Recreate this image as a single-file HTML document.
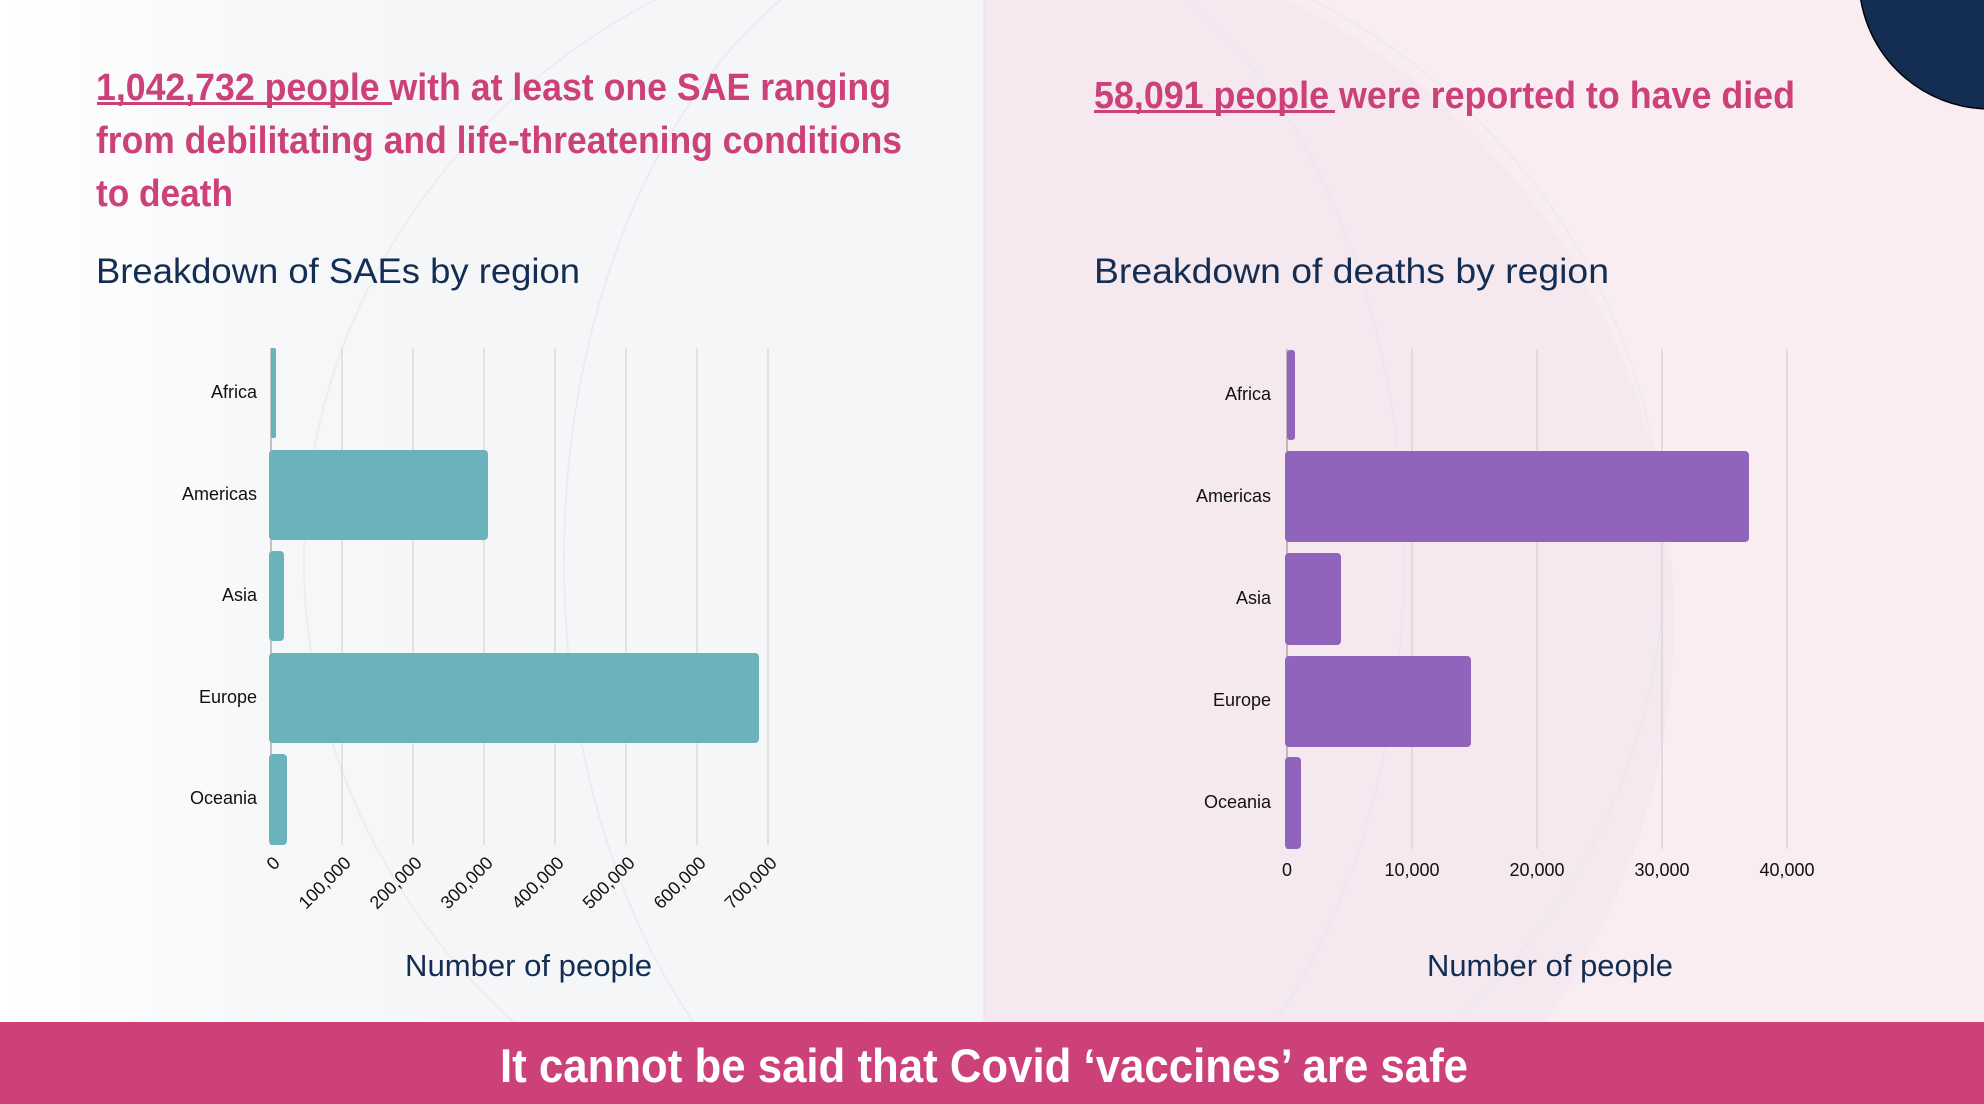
<!DOCTYPE html>
<html><head><meta charset="utf-8"><style>html,body{margin:0;padding:0;background:#fff;width:1984px;height:1104px;overflow:hidden}svg{display:block}</style></head><body>
<svg width="1984" height="1104" viewBox="0 0 1984 1104" xmlns="http://www.w3.org/2000/svg" font-family="Liberation Sans, sans-serif">
<defs>
<linearGradient id="lg" x1="0" x2="1" y1="0" y2="0"><stop offset="0" stop-color="#ffffff"/><stop offset="0.3" stop-color="#f6f7f8"/><stop offset="1" stop-color="#f4f5f7"/></linearGradient>
<clipPath id="rc"><rect x="984" y="0" width="1000" height="1104"/></clipPath>
</defs>
<rect x="0" y="0" width="984" height="1104" fill="url(#lg)"/>
<rect x="984" y="0" width="1000" height="1104" fill="#f9edf2"/>
<circle cx="984" cy="620" r="690" fill="#f1e4ec" opacity="0.6" clip-path="url(#rc)"/>
<g fill="none" stroke="#e8e9ed" stroke-width="2" opacity="0.7">
<ellipse cx="984" cy="560" rx="680" ry="640"/>
<ellipse cx="984" cy="560" rx="420" ry="640"/>
<line x1="984" y1="0" x2="984" y2="1022"/>
</g>
<circle cx="1990" cy="-22" r="131" fill="#132e52" stroke="#000" stroke-width="1.5"/>

<g fill="#cc4179" font-weight="bold" font-size="38">
<text x="96" y="100" textLength="795" lengthAdjust="spacingAndGlyphs">1,042,732 people with at least one SAE ranging</text>
<text x="96" y="153" textLength="806" lengthAdjust="spacingAndGlyphs">from debilitating and life-threatening conditions</text>
<text x="96" y="206" textLength="137" lengthAdjust="spacingAndGlyphs">to death</text>
<text x="1094" y="108" textLength="701" lengthAdjust="spacingAndGlyphs">58,091 people were reported to have died</text>
</g>
<rect x="97" y="102" width="295" height="3" fill="#cc4179"/>
<rect x="1094" y="110" width="241" height="3" fill="#cc4179"/>
<g fill="#132e52" font-size="35">
<text x="96" y="283" textLength="484" lengthAdjust="spacingAndGlyphs">Breakdown of SAEs by region</text>
<text x="1094" y="283" textLength="515" lengthAdjust="spacingAndGlyphs">Breakdown of deaths by region</text>
<text x="405" y="976" textLength="247" lengthAdjust="spacingAndGlyphs" font-size="31">Number of people</text>
<text x="1427" y="976" textLength="246" lengthAdjust="spacingAndGlyphs" font-size="31">Number of people</text>
</g>

<g stroke="#dcdcdc" stroke-width="1.5">
<line x1="342" y1="348" x2="342" y2="845"/><line x1="413" y1="348" x2="413" y2="845"/>
<line x1="484" y1="348" x2="484" y2="845"/><line x1="555" y1="348" x2="555" y2="845"/>
<line x1="626" y1="348" x2="626" y2="845"/><line x1="697" y1="348" x2="697" y2="845"/>
<line x1="768" y1="348" x2="768" y2="845"/>
</g>
<line x1="271" y1="348" x2="271" y2="845" stroke="#b0b0b0" stroke-width="1.5"/>
<g fill="#6bb3bc">
<rect x="271" y="348" width="5" height="90" rx="2"/>
<rect x="269" y="450" width="219" height="90" rx="4"/>
<rect x="269" y="551" width="15" height="90" rx="4"/>
<rect x="269" y="653" width="490" height="90" rx="4"/>
<rect x="269" y="754" width="18" height="91" rx="4"/>
</g>
<g font-size="18" fill="#111" text-anchor="end">
<text x="257" y="398">Africa</text>
<text x="257" y="500">Americas</text>
<text x="257" y="601">Asia</text>
<text x="257" y="703">Europe</text>
<text x="257" y="804">Oceania</text>
</g>
<g font-size="18" fill="#111" text-anchor="end">
<text transform="translate(281,864) rotate(-45)">0</text>
<text transform="translate(352,864) rotate(-45)">100,000</text>
<text transform="translate(423,864) rotate(-45)">200,000</text>
<text transform="translate(494,864) rotate(-45)">300,000</text>
<text transform="translate(565,864) rotate(-45)">400,000</text>
<text transform="translate(636,864) rotate(-45)">500,000</text>
<text transform="translate(707,864) rotate(-45)">600,000</text>
<text transform="translate(778,864) rotate(-45)">700,000</text>
</g>

<g stroke="#dfd2da" stroke-width="1.5">
<line x1="1412" y1="349" x2="1412" y2="849"/><line x1="1537" y1="349" x2="1537" y2="849"/>
<line x1="1662" y1="349" x2="1662" y2="849"/><line x1="1787" y1="349" x2="1787" y2="849"/>
</g>
<line x1="1287" y1="349" x2="1287" y2="849" stroke="#b0a8ad" stroke-width="1.5"/>
<g fill="#9064bb">
<rect x="1287" y="350" width="8" height="90" rx="3"/>
<rect x="1285" y="451" width="464" height="91" rx="4"/>
<rect x="1285" y="553" width="56" height="92" rx="4"/>
<rect x="1285" y="656" width="186" height="91" rx="4"/>
<rect x="1285" y="757" width="16" height="92" rx="4"/>
</g>
<g font-size="18" fill="#111" text-anchor="end">
<text x="1271" y="400">Africa</text>
<text x="1271" y="502">Americas</text>
<text x="1271" y="604">Asia</text>
<text x="1271" y="706">Europe</text>
<text x="1271" y="808">Oceania</text>
</g>
<g font-size="18" fill="#111" text-anchor="middle">
<text x="1287" y="876">0</text>
<text x="1412" y="876">10,000</text>
<text x="1537" y="876">20,000</text>
<text x="1662" y="876">30,000</text>
<text x="1787" y="876">40,000</text>
</g>

<rect x="0" y="1022" width="1984" height="82" fill="#cc4179"/>
<text x="500" y="1082" fill="#fff" font-weight="bold" font-size="47" textLength="968" lengthAdjust="spacingAndGlyphs">It cannot be said that Covid ‘vaccines’ are safe</text>
</svg>
</body></html>
